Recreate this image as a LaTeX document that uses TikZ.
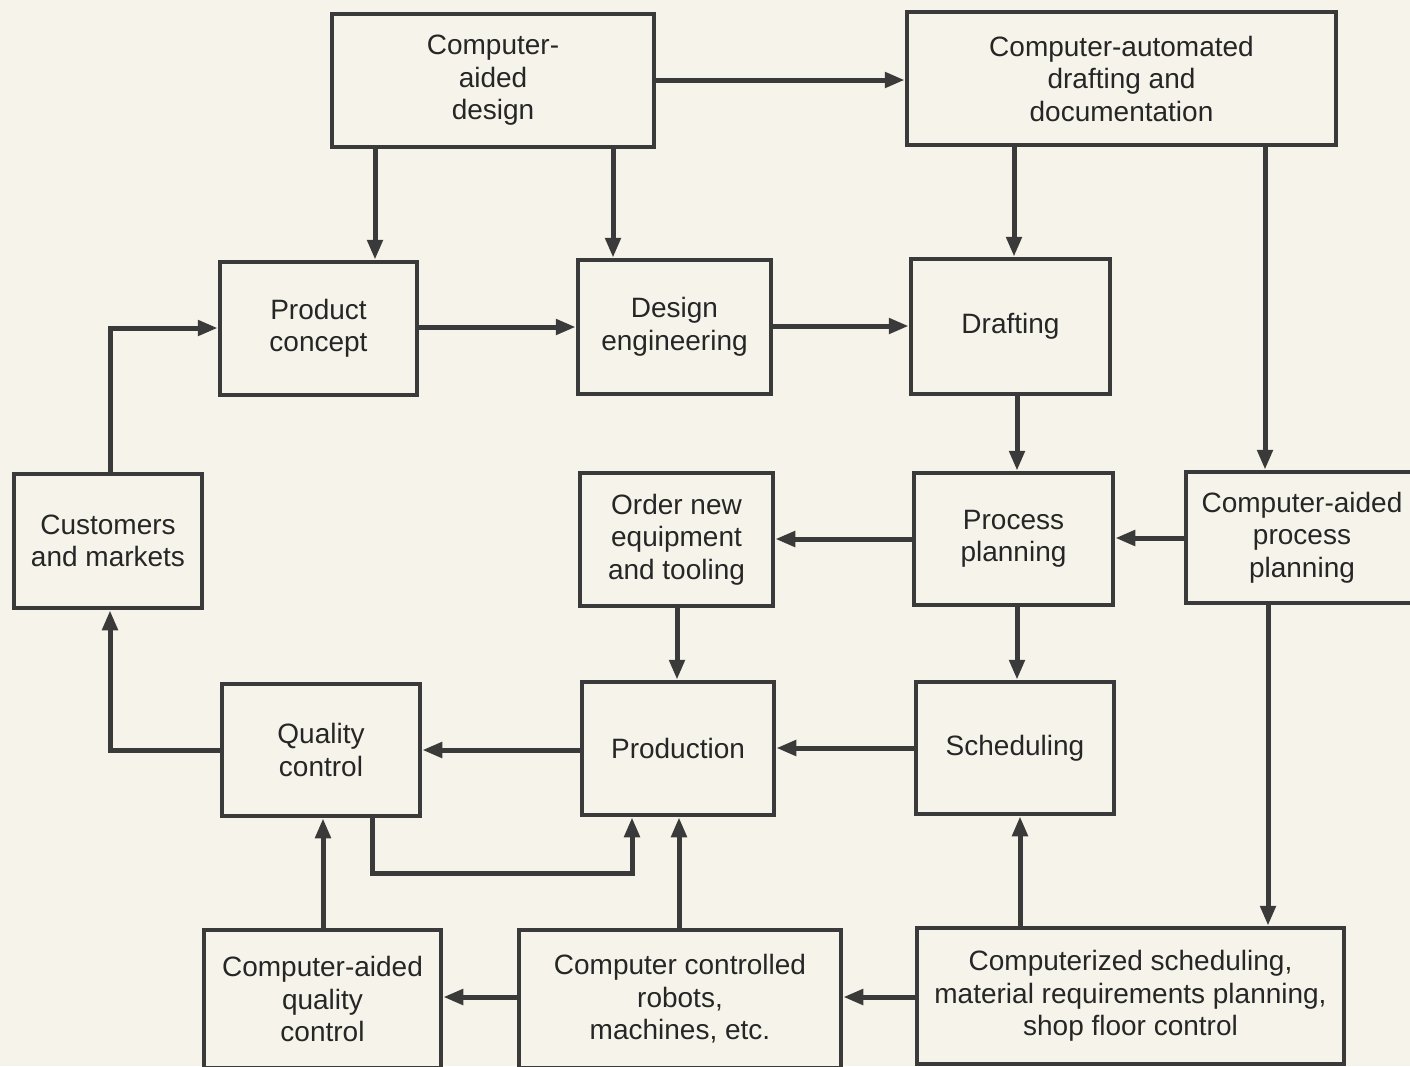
\documentclass[tikz,border=0pt]{standalone}
\usepackage{fontspec}
\setmainfont{Liberation Sans}
\usetikzlibrary{arrows.meta}
\definecolor{bg}{HTML}{F6F4EA}
\definecolor{ink}{HTML}{3A3A3A}
\definecolor{txt}{HTML}{262626}
\tikzset{
  box/.style={draw=ink, line width=4.5pt, inner sep=0pt, align=center, text=txt},
  arr/.style={draw=ink, line width=5pt, -{Triangle[length=20pt,width=15pt]}},
}
\begin{document}
\begin{tikzpicture}[x=1pt, y=-1pt, font=\fontsize{28}{32.5}\selectfont]
\fill[bg] (0,0) rectangle (1410,1066);
\useasboundingbox (0,0) rectangle (1410,1066);

\node[box, minimum width=322pt, minimum height=133pt] (cad) at (493,80.5) {Computer-\\aided\\design};
\node[box, minimum width=429pt, minimum height=133pt] (cadd) at (1121.5,78.5) {Computer-automated\\drafting and\\documentation};
\node[box, minimum width=197pt, minimum height=133pt] (pc) at (318.5,328.5) {Product\\concept};
\node[box, minimum width=193pt, minimum height=134pt] (de) at (674.5,327) {Design\\engineering};
\node[box, minimum width=199pt, minimum height=135pt] (dr) at (1010.5,326.5) {Drafting};
\node[box, minimum width=188pt, minimum height=134pt] (cm) at (108,541) {Customers\\and markets};
\node[box, minimum width=193pt, minimum height=133pt] (on) at (676.5,539.5) {Order new\\equipment\\and tooling};
\node[box, minimum width=199pt, minimum height=132pt] (pp) at (1013.5,539) {Process\\planning};
\node[box, minimum width=232pt, minimum height=131pt] (capp) at (1302,537.5) {Computer-aided\\process\\planning};
\node[box, minimum width=198pt, minimum height=132pt] (qc) at (321,750) {Quality\\control};
\node[box, minimum width=192pt, minimum height=133pt] (pr) at (678,748.5) {Production};
\node[box, minimum width=198pt, minimum height=132pt] (sc) at (1015,748) {Scheduling};
\node[box, minimum width=237pt, minimum height=138pt] (caqc) at (322.5,999) {Computer-aided\\quality\\control};
\node[box, minimum width=322pt, minimum height=138pt] (rb) at (680,999) {Computer controlled\\robots,\\machines, etc.};
\node[box, minimum width=427pt, minimum height=136pt] (cs) at (1130.5,996) {Computerized scheduling,\\material requirements planning,\\shop floor control};

% connectors
\draw[arr] (cad.east |- 0,80) -- (cadd.west |- 0,80);
\draw[arr] (cad.south -| 375,0) -- (pc.north -| 375,0);
\draw[arr] (cad.south -| 613,0) -- (de.north -| 613,0);
\draw[arr] (cadd.south -| 1014,0) -- (dr.north -| 1014,0);
\draw[arr] (cadd.south -| 1265,0) -- (capp.north -| 1265,0);
\draw[arr] (pc.east |- 0,327) -- (de.west |- 0,327);
\draw[arr] (de.east |- 0,326) -- (dr.west |- 0,326);
\draw[arr] (cm.north -| 110,0) |- (pc.west |- 0,328);
\draw[arr] (dr.south -| 1017,0) -- (pp.north -| 1017,0);
\draw[arr] (pp.west |- 0,539) -- (on.east |- 0,539);
\draw[arr] (capp.west |- 0,538) -- (pp.east |- 0,538);
\draw[arr] (on.south -| 677,0) -- (pr.north -| 677,0);
\draw[arr] (pp.south -| 1017,0) -- (sc.north -| 1017,0);
\draw[arr] (sc.west |- 0,748) -- (pr.east |- 0,748);
\draw[arr] (pr.west |- 0,750) -- (qc.east |- 0,750);
\draw[arr] (qc.west |- 0,750) -| (cm.south -| 110,0);
\draw[arr] (qc.south -| 372,0) -- (372,873) -- (632,873) -- (pr.south -| 632,0);
\draw[arr] (caqc.north -| 323,0) -- (qc.south -| 323,0);
\draw[arr] (rb.north -| 679,0) -- (pr.south -| 679,0);
\draw[arr] (cs.north -| 1020,0) -- (sc.south -| 1020,0);
\draw[arr] (capp.south -| 1268,0) -- (cs.north -| 1268,0);
\draw[arr] (cs.west |- 0,997) -- (rb.east |- 0,997);
\draw[arr] (rb.west |- 0,997) -- (caqc.east |- 0,997);
\end{tikzpicture}
\end{document}
